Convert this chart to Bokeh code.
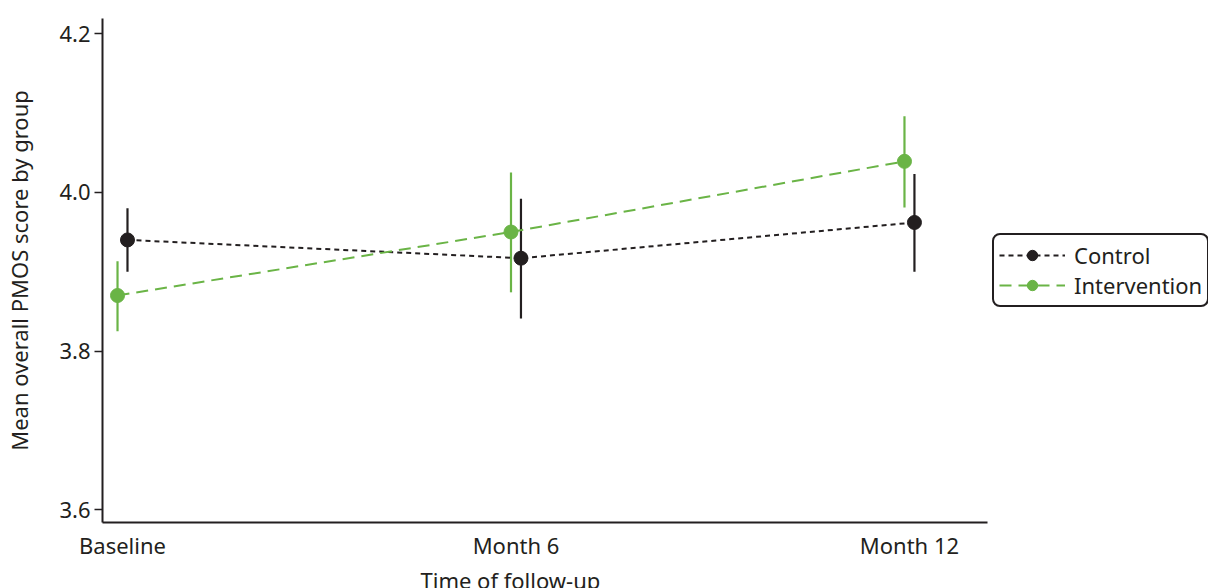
from bokeh.plotting import figure
from bokeh.models import Range1d, Legend, LegendItem, FixedTicker, Title
from bokeh.embed import file_html
from bokeh.resources import INLINE

categories = ["Baseline", "Month 6", "Month 12"]
months = [0, 6, 12]
control_mean = [3.940, 3.917, 3.962]
control_lower = [3.900, 3.841, 3.900]
control_upper = [3.980, 3.992, 4.023]
intervention_mean = [3.870, 3.950, 4.039]
intervention_lower = [3.825, 3.874, 3.981]
intervention_upper = [3.913, 4.025, 4.096]
y_ticks = [3.6, 3.8, 4.0, 4.2]

BLACK = "#231f20"
GREEN = "#6ab446"
FONT = "Noto Sans"
FS = "22px"
OFF = 0.076

p = figure(frame_width=885, frame_height=504, output_backend="svg", toolbar_location=None,
           x_range=Range1d(-0.305, 13.19), y_range=Range1d(3.584, 4.219),
           min_border_left=102, min_border_top=18, min_border_bottom=0, min_border_right=0)
p.outline_line_color = None
p.grid.visible = False

cx = [m + OFF for m in months]
ix = [m - OFF for m in months]

# error bars
p.segment(x0=cx, y0=control_lower, x1=cx, y1=control_upper, line_color=BLACK, line_width=2.2)
p.segment(x0=ix, y0=intervention_lower, x1=ix, y1=intervention_upper, line_color=GREEN, line_width=2.2)

cl = p.line(cx, control_mean, line_color=BLACK, line_width=2, line_dash="5 4")
il = p.line(ix, intervention_mean, line_color=GREEN, line_width=2, line_dash="12 7")
cs = p.scatter(cx, control_mean, size=14, fill_color=BLACK, line_color=BLACK)
isc = p.scatter(ix, intervention_mean, size=14, fill_color=GREEN, line_color=GREEN)

# axes
p.xaxis.ticker = FixedTicker(ticks=months)
p.xaxis.major_label_overrides = {m: c for m, c in zip(months, categories)}
p.xaxis.major_tick_out = 0
p.xaxis.major_tick_in = 0
p.xaxis.minor_tick_out = 0
p.xaxis.minor_tick_in = 0
p.xaxis.major_label_standoff = 7

p.yaxis.ticker = FixedTicker(ticks=y_ticks)
p.yaxis.major_label_overrides = {t: f"{t:.1f}" for t in y_ticks}
p.yaxis.major_tick_out = 8
p.yaxis.major_tick_in = 0
p.yaxis.minor_tick_out = 0
p.yaxis.minor_tick_in = 0
p.yaxis.major_label_standoff = 4
p.yaxis.axis_label = "Mean overall PMOS score by group"
p.yaxis.axis_label_standoff = 22

for ax in (p.xaxis, p.yaxis):
    ax.axis_line_color = BLACK
    ax.axis_line_width = 2
    ax.major_tick_line_color = BLACK
    ax.major_tick_line_width = 1.5
    ax.major_label_text_font = FONT
    ax.major_label_text_font_size = FS
    ax.major_label_text_color = BLACK
    ax.axis_label_text_font = FONT
    ax.axis_label_text_font_size = FS
    ax.axis_label_text_font_style = "normal"
    ax.axis_label_text_color = BLACK

xtitle = Title(text="Time of follow-up", align="left", offset=318,
               text_font=FONT, text_font_size=FS, text_color=BLACK,
               text_font_style="normal", standoff=0)
p.add_layout(xtitle, "below")

legend = Legend(items=[LegendItem(label="Control", renderers=[cl, cs]),
                       LegendItem(label="Intervention", renderers=[il, isc])],
                location="center_left", margin=5, padding=5, spacing=0,
                glyph_width=66, glyph_height=26, label_height=26, label_standoff=9,
                label_text_font=FONT, label_text_font_size=FS, label_text_color=BLACK,
                border_line_color=BLACK, border_line_width=2, border_line_alpha=1,
                background_fill_alpha=0)
try:
    legend.border_radius = 8
except Exception:
    pass
p.add_layout(legend, "right")

open("out.html", "w").write(file_html(p, INLINE))
